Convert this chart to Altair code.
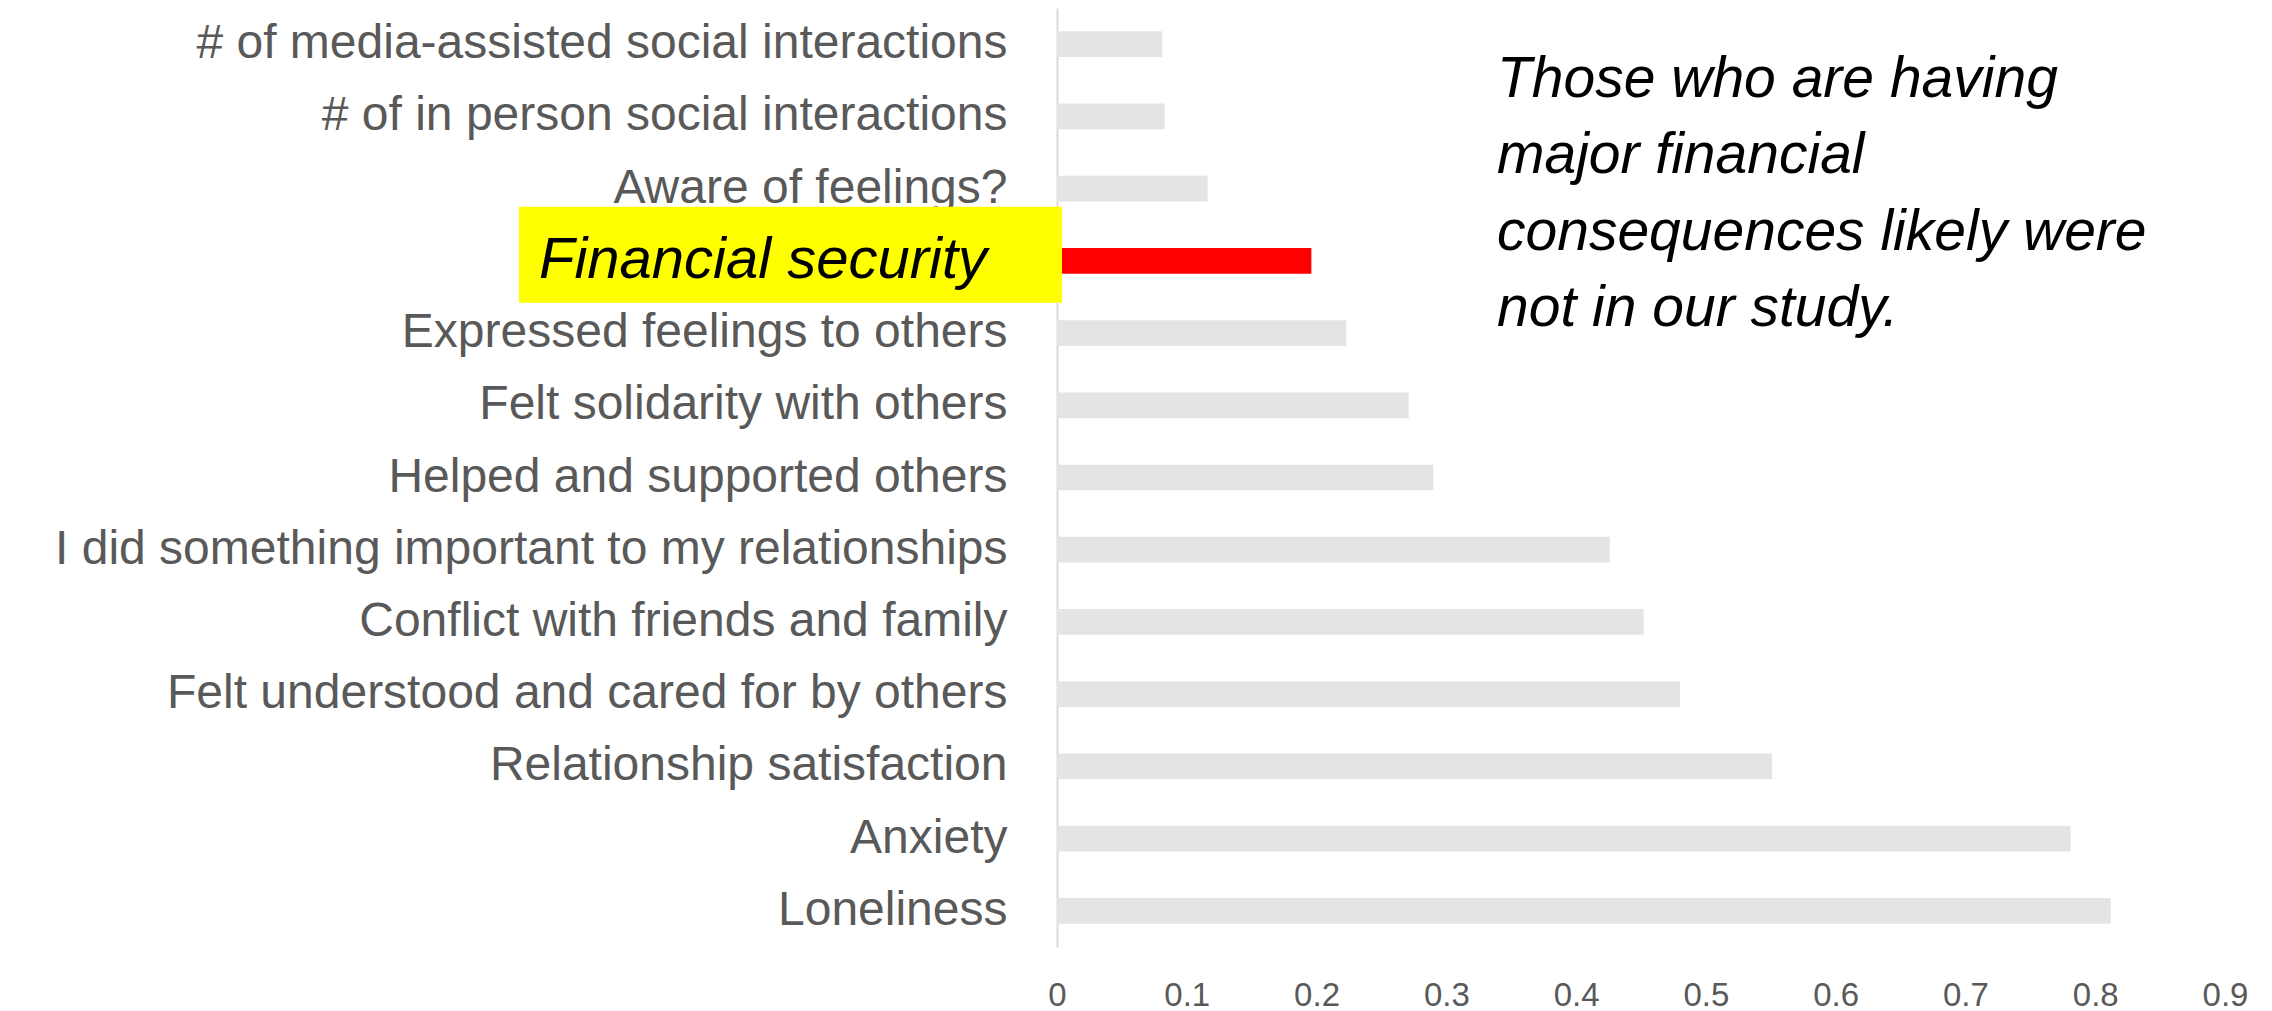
import altair as alt
import pandas as pd

categories = [
    "# of media-assisted social interactions",
    "# of in person social interactions",
    "Aware of feelings?",
    "Financial security",
    "Expressed feelings to others",
    "Felt solidarity with others",
    "Helped and supported others",
    "I did something important to my relationships",
    "Conflict with friends and family",
    "Felt understood and cared for by others",
    "Relationship satisfaction",
    "Anxiety",
    "Loneliness",
]
values = [0.081, 0.083, 0.116, 0.196, 0.223, 0.271, 0.290, 0.426, 0.452, 0.480, 0.551, 0.781, 0.812]
highlight = "Financial security"
tick_values = [0, 0.1, 0.2, 0.3, 0.4, 0.5, 0.6, 0.7, 0.8, 0.9]
note_lines = [
    "Those who are having",
    "major financial",
    "consequences likely were",
    "not in our study.",
]

df = pd.DataFrame({"category": categories, "value": values})
df["color"] = ["#FF0000" if c == highlight else "#E4E4E4" for c in categories]
hl_df = pd.DataFrame({"category": [highlight]})
note_df = pd.DataFrame({"k": [0]})

FONT = "Liberation Sans"

y_enc = alt.Y(
    "category:N",
    sort=categories,
    scale=alt.Scale(paddingInner=0.644, paddingOuter=0.322),
    axis=alt.Axis(
        title=None,
        labelFont=FONT,
        labelFontSize=48,
        labelColor="#595959",
        labelPadding=50,
        labelLimit=1100,
        ticks=False,
        domainColor="#D9D9D9",
        domainWidth=2,
        grid=False,
        labelExpr="datum.label == '" + highlight + "' ? '' : datum.label",
    ),
)

bars = alt.Chart(df).mark_bar().encode(
    y=y_enc,
    x=alt.X(
        "value:Q",
        scale=alt.Scale(domain=[0, 0.9], nice=False, zero=True),
        axis=alt.Axis(
            title=None,
            values=tick_values,
            format="~g",
            domain=False,
            ticks=False,
            grid=False,
            labelFont=FONT,
            labelFontSize=33,
            labelColor="#595959",
            labelBaseline="alphabetic",
            labelPadding=58,
            labelFlush=False,
            labelOverlap=False,
        ),
    ),
    color=alt.Color("color:N", scale=None),
)

box = alt.Chart(hl_df).mark_bar(color="#FFFF00", size=96, yOffset=-6).encode(
    y=alt.Y("category:N", sort=categories),
    x=alt.value(-538),
    x2=alt.value(5),
)

hl_text = alt.Chart(hl_df).mark_text(
    align="left", baseline="alphabetic", dy=17, fontSize=58,
    fontStyle="italic", font=FONT, color="black",
).encode(
    y=alt.Y("category:N", sort=categories),
    x=alt.value(-518),
    text="category:N",
)

note = alt.Chart(note_df).mark_text(
    text=note_lines, align="left", baseline="alphabetic", lineHeight=76.3,
    fontSize=57, fontStyle="italic", font=FONT, color="black",
).encode(
    x=alt.value(440),
    y=alt.value(89),
)

chart = alt.layer(bars, box, hl_text, note).properties(
    width=1168,
    height=939,
    autosize=alt.AutoSizeParams(type="none"),
    padding={"left": 1057, "top": 8, "right": 47, "bottom": 64},
    background="white",
).configure_view(strokeWidth=0)

chart.save("out.html", embed_options={"renderer": "svg", "actions": False})
